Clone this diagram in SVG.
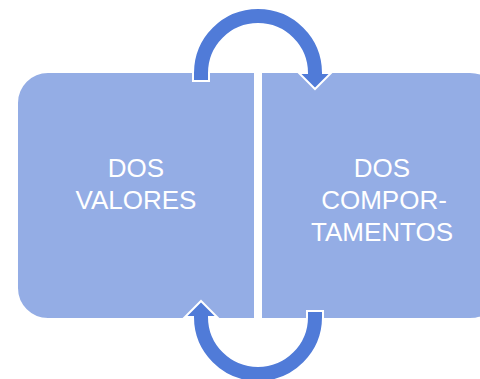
<svg xmlns="http://www.w3.org/2000/svg" width="480" height="379" viewBox="0 0 480 379">
<style>
.box{fill:#94ADE5;stroke:#FFFFFF;stroke-width:2}
.arrow{fill:#507BD8;stroke:#FFFFFF;stroke-width:2;stroke-linejoin:miter}
.lbl{font-family:"Liberation Sans",Arial,sans-serif;font-size:26px;fill:#FFFFFF;text-anchor:middle}
</style>
<rect width="480" height="379" fill="#FFFFFF"/>
<g id="node-valores">
<path class="box" d="M255,72 L255,319 L48,319 A31,31 0 0 1 17,288 L17,103 A31,31 0 0 1 48,72 Z"/>
<text class="lbl" x="136" y="177">DOS</text>
<text class="lbl" x="136" y="209">VALORES</text>
</g>
<g id="node-comportamentos">
<path class="box" d="M261,72 L470,72 A31,31 0 0 1 501,103 L501,288 A31,31 0 0 1 470,319 L261,319 Z"/>
<text class="lbl" x="382" y="177">DOS</text>
<text class="lbl" x="384" y="209">COMPOR-</text>
<text class="lbl" x="382" y="241">TAMENTOS</text>
</g>
<g id="connectors">
<path class="arrow" d="M193,81 L193,73 A65,65 0 0 1 323,73 L331,73 L315,89 L299,73 L307,73 A49,49 0 0 0 209,73 L209,81 Z"/>
<path class="arrow" d="M323,311 L323,317 A65,65 0 0 1 193,317 L185,317 L201,301 L217,317 L209,317 A49,49 0 0 0 307,317 L307,311 Z"/>
</g>
</svg>
